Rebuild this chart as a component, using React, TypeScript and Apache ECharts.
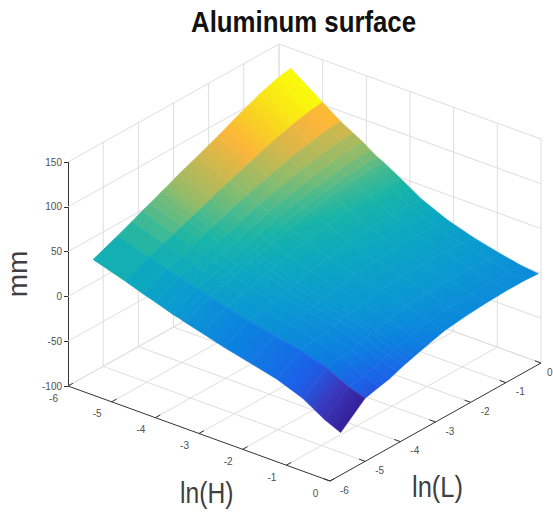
import React, { useEffect, useRef } from "react";
import * as echarts from "echarts";

const titleText = "Aluminum surface";
const xName = "ln(H)";
const yName = "ln(L)";
const zName = "mm";
const hTicks = [-6, -5, -4, -3, -2, -1, 0];
const lTicks = [-6, -5, -4, -3, -2, -1, 0];
const zTicks = [-100, -50, 0, 50, 100, 150];

// grid lines of the surface (log-spaced, so low values are wide strips)
const hNodes = [-5.7, -4.97, -4.56, -4.27, -4.05, -3.87, -3.71, -3.58, -3.2, -2.7, -2.1, -1.5, -0.9, -0.4, -0.03];
const lNodes = [-5.66, -4.97, -4.56, -4.27, -4.05, -3.87, -3.71, -3.58, -3.2, -2.7, -2.1, -1.5, -0.9, -0.4, -0.04];
// surface height, one row per lNodes entry, one column per hNodes entry
const zRows = [
  [39, 28, 21, 16.5, 13, 10, 8, 6, 1, -6, -13, -20, -31, -46, -54],
  [50, 40, 34.2, 30, 26.9, 23.8, 21.9, 20.1, 15.4, 8.6, 2.5, -3.2, -12.3, -24.8, -31],
  [57, 45.5, 39.6, 35.3, 31.6, 28.7, 26.5, 24.5, 19.4, 12, 5.3, -0.5, -9.3, -21.2, -27],
  [62.5, 49.6, 43.4, 38.7, 35.2, 31.8, 29.5, 27.5, 22, 14.1, 7.1, 1, -7.6, -18.9, -24.5],
  [66, 53.2, 46.7, 42, 38.3, 35, 32.6, 30.5, 24.9, 16.7, 9.6, 3.6, -4.9, -15.7, -21],
  [69, 55.9, 49.3, 44.4, 40.7, 37.2, 34.8, 32.7, 26.9, 18.6, 11.3, 5.3, -2.9, -13.4, -18.5],
  [72, 58.4, 51.6, 46.7, 42.9, 39.4, 36.7, 34.7, 28.7, 20.3, 12.8, 6.7, -1.4, -11.6, -16.5],
  [74, 60.2, 53.2, 48.2, 44.3, 40.9, 38.1, 36.1, 29.9, 21.3, 13.8, 7.6, -0.3, -10.3, -15],
  [81, 66.2, 58.7, 53.6, 49.6, 45.7, 42.9, 40.7, 34.2, 25, 17, 10.8, 3.2, -6.1, -10.5],
  [89, 74, 65.9, 60.4, 56, 52.1, 48.9, 46.6, 39.5, 29.7, 21.1, 14.6, 7.3, -1.2, -5],
  [99, 82.4, 73, 66.9, 62.3, 57.8, 54.2, 51.8, 43.9, 32.9, 23.3, 16.4, 9, 1.4, -2],
  [110, 91, 80, 73.3, 68.3, 63.3, 59.4, 56.7, 47.9, 35.6, 25, 17.3, 10, 3, 0],
  [120, 97.7, 85.1, 77.9, 72.5, 67.2, 62.8, 59.9, 50.2, 36.9, 25.2, 17, 9.9, 3.6, 1],
  [126.5, 102.2, 88.8, 81.1, 75.3, 69.6, 64.9, 61.9, 51.4, 37.2, 24.7, 16, 9, 3.3, 1],
  [129, 104, 90, 82, 76, 70, 65, 62, 51, 36, 23, 14, 7, 2, 0],
];

const colourStops: [number, string][] = [
  [0, "#35209a"], [0.07, "#3a3ac0"], [0.15, "#1c60e8"], [0.25, "#0c80e0"],
  [0.35, "#0a98d2"], [0.45, "#0ca8c0"], [0.55, "#18b4a8"], [0.62, "#45ba90"],
  [0.7, "#8cbc6c"], [0.78, "#c8b850"], [0.85, "#fcb53a"], [0.92, "#f8d520"], [1, "#fafa0a"],
];
const colourMin = -54;
const colourMax = 129;
const flatStrips = 7; // the first strips have one flat colour across them

// view
const plotLeft = 68, plotTop = 162, plotWidth = 473, plotHeight = 224;
const hRunX = 262, hRunY = 95, lRunX = 211, lRunY = 118;
const zScale = plotHeight / 250;

function project(H: number, L: number, z: number): [number, number] {
  const a = (H + 6) / 6, b = (L + 6) / 6;
  return [a * hRunX + b * lRunX, z - (a * hRunY - b * lRunY) / zScale];
}

function hex(c: string) {
  return [1, 3, 5].map((k) => parseInt(c.slice(k, k + 2), 16));
}
function colourOf(v: number) {
  const t = Math.max(0, Math.min(1, (v - colourMin) / (colourMax - colourMin)));
  for (let k = 1; k < colourStops.length; k++) {
    if (t <= colourStops[k][0]) {
      const [t0, c0] = colourStops[k - 1];
      const [t1, c1] = colourStops[k];
      const f = (t - t0) / (t1 - t0);
      const A = hex(c0), B = hex(c1);
      return `rgb(${A.map((x, n) => Math.round(x + (B[n] - x) * f)).join(",")})`;
    }
  }
  return colourStops[colourStops.length - 1][1];
}

// one linear gradient for a whole cell: the plane that fits its four corners
function cellFill(p: number[][], c: number[]): any {
  const [p00, p10, p11, p01] = p;
  const [c00, c10, c11, c01] = c;
  const e1 = [(p10[0] - p00[0] + p11[0] - p01[0]) / 2, (p10[1] - p00[1] + p11[1] - p01[1]) / 2];
  const e2 = [(p01[0] - p00[0] + p11[0] - p10[0]) / 2, (p01[1] - p00[1] + p11[1] - p10[1]) / 2];
  const d1 = (c10 - c00 + c11 - c01) / 2;
  const d2 = (c01 - c00 + c11 - c10) / 2;
  const mean = (c00 + c10 + c11 + c01) / 4;
  if (Math.abs(d1) + Math.abs(d2) < 0.01) return colourOf(mean);
  const det = e1[0] * e2[1] - e2[0] * e1[1];
  if (Math.abs(det) < 1e-6) return colourOf(mean);
  const gx = (d1 * e2[1] - d2 * e1[1]) / det;
  const gy = (e1[0] * d2 - e2[0] * d1) / det;
  const g2 = gx * gx + gy * gy;
  const cx = (p00[0] + p10[0] + p11[0] + p01[0]) / 4;
  const cy = (p00[1] + p10[1] + p11[1] + p01[1]) / 4;
  const along = p.map((q) => gx * (q[0] - cx) + gy * (q[1] - cy));
  const lo = Math.min(...along), hi = Math.max(...along);
  const start = p[along.indexOf(lo)];
  const n = 6;
  const colorStops = [];
  for (let k = 0; k <= n; k++) colorStops.push({ offset: k / n, color: colourOf(mean + lo + ((hi - lo) * k) / n) });
  return {
    type: "linear", global: true,
    x: start[0], y: start[1],
    x2: start[0] + (gx * (hi - lo)) / g2, y2: start[1] + (gy * (hi - lo)) / g2,
    colorStops,
  };
}

const gridSegments: number[][][] = [];
const zLow = zTicks[0], zHigh = zTicks[zTicks.length - 1];
const first = hTicks[0], last = hTicks[hTicks.length - 1];
for (const t of hTicks) {
  if (t < last) gridSegments.push([[t, first, zLow], [t, last, zLow]]);
  gridSegments.push([[t, last, zLow], [t, last, zHigh]]);
}
for (const t of lTicks) {
  if (t > first) gridSegments.push([[first, t, zLow], [last, t, zLow]]);
  if (t > first) gridSegments.push([[first, t, zLow], [first, t, zHigh]]);
}
for (const z of zTicks) {
  gridSegments.push([[first, first, z], [first, last, z]]);
  gridSegments.push([[first, last, z], [last, last, z]]);
}

const axisSegments: number[][][] = [
  [[first, first, zLow], [last, first, zLow]],
  [[last, first, zLow], [last, last, zLow]],
];
for (const t of hTicks) axisSegments.push([[t, first, zLow], [t, first + 0.14, zLow]]);
for (const t of lTicks) axisSegments.push([[last, t, zLow], [last - 0.14, t, zLow]]);

const cells: number[][] = [];
for (let j = lNodes.length - 2; j >= 0; j--) {
  for (let i = 0; i < hNodes.length - 1; i++) cells.push([i, j]);
}

export default function App() {
  const ref = useRef<HTMLDivElement>(null);
  useEffect(() => {
    const chart = echarts.init(ref.current!, undefined, { renderer: "svg" });
    const segmentSeries = (segments: number[][][], color: string, width: number) => ({
      type: "custom",
      coordinateSystem: "cartesian2d",
      silent: true,
      z: 1,
      data: segments.map((_, k) => [k]),
      renderItem: (params: any, api: any) => {
        const [a, b] = segments[params.dataIndex];
        const p = api.coord(project(a[0], a[1], a[2]));
        const q = api.coord(project(b[0], b[1], b[2]));
        return {
          type: "line",
          shape: { x1: p[0], y1: p[1], x2: q[0], y2: q[1] },
          style: { stroke: color, lineWidth: width },
        };
      },
    });
    const labelSeries = (ticks: number[], place: (t: number) => number[], dx: number, dy: number, align: string) => ({
      type: "custom",
      coordinateSystem: "cartesian2d",
      silent: true,
      z: 3,
      data: ticks.map((t) => [t]),
      renderItem: (params: any, api: any) => {
        const t = ticks[params.dataIndex];
        const w = place(t);
        const p = api.coord(project(w[0], w[1], w[2]));
        return {
          type: "text",
          style: {
            text: String(t), x: Math.min(p[0] + dx, 547), y: p[1] + dy,
            fill: "#505050", font: "10px 'Liberation Sans'",
            textAlign: align, textVerticalAlign: "middle",
          },
        };
      },
    });
    chart.setOption({
      animation: false,
      backgroundColor: "#ffffff",
      grid: { left: plotLeft, top: plotTop, width: plotWidth, height: plotHeight, outerBoundsMode: "none", containLabel: false },
      xAxis: { type: "value", min: 0, max: plotWidth, show: false },
      yAxis: {
        type: "value", min: zLow, max: zHigh, interval: 50,
        name: zName, nameLocation: "middle", nameGap: 36, nameRotate: 90,
        nameTextStyle: { fontFamily: "'Liberation Sans'", fontSize: 28, color: "#404040" },
        axisLine: { show: true, lineStyle: { color: "#333", width: 1 } },
        axisTick: { show: true, length: 4, lineStyle: { color: "#333" } },
        axisLabel: { fontFamily: "'Liberation Sans'", fontSize: 10, color: "#505050", margin: 6 },
        splitLine: { show: false },
      },
      graphic: [
        { type: "text", x: 191, y: 22, scaleX: 0.89, originX: 0, style: { text: titleText, fill: "#111", font: "bold 29px 'Liberation Sans'", textVerticalAlign: "middle" } },
        { type: "text", x: 180, y: 493, scaleX: 0.85, style: { text: xName, fill: "#404040", font: "29px 'Liberation Sans'", textVerticalAlign: "middle" } },
        { type: "text", x: 412, y: 487, scaleX: 0.88, style: { text: yName, fill: "#404040", font: "29px 'Liberation Sans'", textVerticalAlign: "middle" } },
      ],
      series: [
        segmentSeries(gridSegments, "#dedede", 1),
        segmentSeries(axisSegments, "#333333", 1),
        labelSeries(hTicks, (t) => [t, first, zLow], -14.5, 12, "center"),
        labelSeries(lTicks, (t) => [last, t, zLow], 10, 9, "left"),
        {
          type: "custom",
          coordinateSystem: "cartesian2d",
          silent: true,
          z: 2,
          data: cells,
          renderItem: (params: any, api: any) => {
            const [i, j] = cells[params.dataIndex];
            const node = (m: number, n: number) =>
              api.coord(project(hNodes[m], lNodes[n], zRows[n][m]));
            const iTop = i < flatStrips ? i : i + 1;
            const jTop = j < flatStrips ? j : j + 1;
            const p = [node(i, j), node(i + 1, j), node(i + 1, j + 1), node(i, j + 1)];
            const fill = cellFill(p, [zRows[j][i], zRows[j][iTop], zRows[jTop][iTop], zRows[jTop][i]]);
            return {
              type: "polygon",
              shape: { points: p },
              style: { fill, stroke: fill, lineWidth: 0.6 },
            };
          },
        },
      ],
    });
    return () => chart.dispose();
  }, []);
  return <div ref={ref} style={{ position: "absolute", left: 0, top: 0, width: 553, height: 518 }} />;
}
